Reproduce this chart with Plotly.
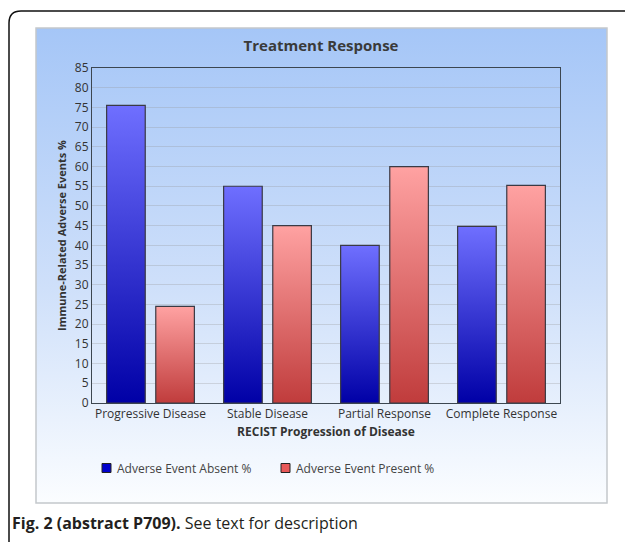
import base64
import plotly.graph_objects as go

# ---- data ----
categories = ["Progressive Disease", "Stable Disease", "Partial Response", "Complete Response"]
absent_pct = [75.5, 55.0, 40.0, 44.8]
present_pct = [24.5, 45.0, 60.0, 55.2]
series_names = ["Adverse Event Absent %", "Adverse Event Present %"]
y_ticks = list(range(0, 90, 5))

# ---- style ----
W, H = 625, 542
FONT = "Open Sans"
TXT = "#333333"
bar_w = 0.33
offsets = [-0.21, 0.21]
grads = [
    [[0, "#0000a6"], [1, "#6f6fff"]],
    [[0, "#c03c3c"], [1, "#ffa2a2"]],
]
legend_cols = ["#0000cc", "#e85858"]
legend_x = [102, 281]

px = lambda x: x / W
py = lambda y: 1 - y / H

fig = go.Figure()

for s, (vals, name) in enumerate(zip([absent_pct, present_pct], series_names)):
    for i, v in enumerate(vals):
        xc = i + offsets[s]
        x0, x1 = xc - bar_w / 2, xc + bar_w / 2
        fig.add_trace(go.Scatter(
            x=[x0, x0, x1, x1, x0], y=[0, v, v, 0, 0],
            mode="lines", fill="toself", name=name, legendgroup=name,
            fillgradient=dict(type="vertical", colorscale=grads[s]),
            line=dict(color="#3a3a44", width=1.2),
            showlegend=False, hoverinfo="skip",
        ))
    # legend entry drawn as square + text
    fig.add_shape(type="rect", xref="paper", yref="paper",
                  x0=px(legend_x[s]), x1=px(legend_x[s] + 9), y0=py(472.5), y1=py(463.5),
                  fillcolor=legend_cols[s], line=dict(color="#222", width=1))
    fig.add_annotation(xref="paper", yref="paper", x=px(legend_x[s] + 13), y=py(468),
                       xanchor="left", yanchor="middle", text=name, showarrow=False,
                       font=dict(family=FONT, size=12, color="#444444"))

# panel gradient background via svg image
svg = ('<svg xmlns="http://www.w3.org/2000/svg" width="100" height="100" preserveAspectRatio="none">'
       '<defs><linearGradient id="g" x1="0" y1="0" x2="0" y2="1">'
       '<stop offset="0" stop-color="#a5c6f7"/><stop offset="0.55" stop-color="#cfe0fa"/>'
       '<stop offset="1" stop-color="#fbfdff"/></linearGradient></defs>'
       '<rect width="100" height="100" fill="url(#g)"/></svg>')
src = "data:image/svg+xml;base64," + base64.b64encode(svg.encode()).decode()

fig.add_layout_image(dict(source=src, xref="paper", yref="paper",
                          x=px(36), y=py(28), sizex=px(607) - px(36), sizey=py(28) - py(503),
                          sizing="stretch", layer="below", xanchor="left", yanchor="top"))
fig.add_shape(type="rect", xref="paper", yref="paper", x0=px(36), x1=px(607), y0=py(503), y1=py(28),
              line=dict(color="#c4c8cc", width=1.5), layer="below")

# outer frame with rounded top-left corner
r = 12
path = (f"M {px(9)},{py(545)} L {px(9)},{py(11 + r)} "
        f"Q {px(9)},{py(11)} {px(9 + r)},{py(11)} L {px(630)},{py(11)}")
fig.add_shape(type="path", xref="paper", yref="paper", path=path,
              line=dict(color="#111111", width=1.5))

fig.add_annotation(xref="paper", yref="paper", x=px(10), y=py(523), xanchor="left", yanchor="middle",
                   text="<b>Fig. 2 (abstract P709).</b> See text for description",
                   showarrow=False, font=dict(family=FONT, size=16, color="#231f20"))

fig.update_layout(
    width=W, height=H,
    margin=dict(l=0, r=0, t=0, b=0, pad=0, autoexpand=False),
    paper_bgcolor="white", plot_bgcolor="rgba(0,0,0,0)",
    font=dict(family=FONT, size=12, color=TXT),
    title=dict(text="<b>Treatment Response</b>", x=px(321), xanchor="center",
               y=py(46), yanchor="middle", font=dict(family=FONT, size=15, color="#3a3a3a")),
    xaxis=dict(domain=[px(92), px(560)], range=[-0.5, 3.5],
               tickmode="array", tickvals=list(range(len(categories))), ticktext=categories,
               showgrid=False, zeroline=False, showline=True, mirror=True,
               linecolor="#3c4650", linewidth=1, ticks="", tickfont=dict(size=12, color=TXT),
               title=dict(text="<b>RECIST Progression of Disease</b>", standoff=6,
                          font=dict(size=12, color=TXT))),
    yaxis=dict(domain=[py(403), py(68)], range=[0, 85],
               tickmode="array", tickvals=y_ticks, ticktext=[str(t) for t in y_ticks],
               showgrid=True, gridcolor="rgba(150,150,150,0.3)", gridwidth=1,
               zeroline=False, showline=True, mirror=True, linecolor="#3c4650", linewidth=1,
               ticks="", tickfont=dict(size=12, color=TXT),
               title=dict(text="<b>Immune-Related Adverse Events %</b>", standoff=6,
                          font=dict(size=11, color=TXT))),
    showlegend=False,
)

fig.write_html("out.html", config={"displayModeBar": False},
               post_script="document.body.style.margin='0';document.body.style.overflow='hidden';")
